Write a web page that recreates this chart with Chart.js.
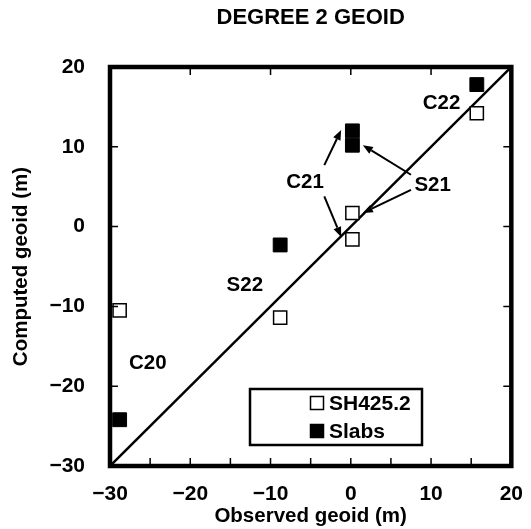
<!DOCTYPE html>
<html>
<head>
<meta charset="utf-8">
<script src="https://cdn.jsdelivr.net/npm/chart.js@4.4.0/dist/chart.umd.min.js"></script>
<style>
  body { margin: 0; background: #fff; }
  #wrap { width: 531px; height: 529px; }
</style>
</head>
<body>
<div id="wrap"><canvas id="grafica" width="531" height="529"></canvas></div>
<script>
// Términos del geoide de grado 2 (un punto por término y modelo)
const terminos = ['C22', 'C21', 'S21', 'S22', 'C20'];
const observado = [15.7, 0.2, 0.2, -8.8, -28.8];
const sh4252 = [14.2, -1.6, 1.7, -11.4, -10.5];
const slabs = [17.8, 12.0, 10.2, -2.3, -24.2];

// Recta y = x
const rectaX = [-30, 20];
const rectaY = [-30, 20];

// Marcas de los ejes
const ticksX = [-30, -20, -10, 0, 10, 20];
const ticksY = [-30, -20, -10, 0, 10, 20];
const ticksMenoresX = [-25, -15, -5, 5, 15];

// Rótulos y flechas, en unidades de los datos
const rotulos = [
    { texto: 'C22', x: 11.3, y: 15.5 },
    { texto: 'C21', x: -5.7, y: 5.5 },
    { texto: 'S21', x: 10.2, y: 5.2 },
    { texto: 'S22', x: -13.2, y: -7.3 },
    { texto: 'C20', x: -25.3, y: -17.1 }
];
const flechas = [
    { desde: [-3.3, 7.7], hasta: [-1.2, 12.1] },
    { desde: [-3.3, 3.8], hasta: [-1.2, -1.3] },
    { desde: [7.5, 6.5], hasta: [1.5, 10.2] },
    { desde: [7.5, 4.6], hasta: [1.5, 1.7] }
];

const fuente = '"Liberation Sans", Arial, Helvetica, sans-serif';
const menos = v => String(v).replace('-', '\u2212');

// Dibuja marco, marcas hacia dentro, flechas, rótulos y leyenda
const dibujoExtra = {
    id: 'dibujoExtra',
    afterDraw(chart) {
        const { ctx, chartArea: a, scales: { x, y } } = chart;
        ctx.save();
        ctx.strokeStyle = '#000';
        ctx.fillStyle = '#000';

        // marcas
        ctx.lineWidth = 1.5;
        const largo = 8;
        ctx.beginPath();
        ticksX.concat(ticksMenoresX).forEach(v => {
            const px = x.getPixelForValue(v);
            ctx.moveTo(px, a.bottom);
            ctx.lineTo(px, a.bottom - largo);
        });
        ticksX.forEach(v => {
            const px = x.getPixelForValue(v);
            ctx.moveTo(px, a.top);
            ctx.lineTo(px, a.top + largo);
        });
        ticksY.forEach(v => {
            const py = y.getPixelForValue(v);
            ctx.moveTo(a.left, py);
            ctx.lineTo(a.left + largo, py);
            ctx.moveTo(a.right, py);
            ctx.lineTo(a.right - largo, py);
        });
        ctx.stroke();

        // marco
        ctx.lineWidth = 4.5;
        ctx.strokeRect(a.left, a.top, a.right - a.left, a.bottom - a.top);

        // flechas
        ctx.lineWidth = 2;
        flechas.forEach(f => {
            const x0 = x.getPixelForValue(f.desde[0]);
            const y0 = y.getPixelForValue(f.desde[1]);
            const x1 = x.getPixelForValue(f.hasta[0]);
            const y1 = y.getPixelForValue(f.hasta[1]);
            const ang = Math.atan2(y1 - y0, x1 - x0);
            const punta = 10, ancho = 4;
            const bx = x1 - punta * Math.cos(ang);
            const by = y1 - punta * Math.sin(ang);
            ctx.beginPath();
            ctx.moveTo(x0, y0);
            ctx.lineTo(bx, by);
            ctx.stroke();
            ctx.beginPath();
            ctx.moveTo(x1, y1);
            ctx.lineTo(bx + ancho * Math.sin(ang), by - ancho * Math.cos(ang));
            ctx.lineTo(bx - ancho * Math.sin(ang), by + ancho * Math.cos(ang));
            ctx.closePath();
            ctx.fill();
        });

        // rótulos
        ctx.font = 'bold 20.5px ' + fuente;
        ctx.textAlign = 'center';
        ctx.textBaseline = 'middle';
        rotulos.forEach(r => {
            ctx.fillText(r.texto, x.getPixelForValue(r.x), y.getPixelForValue(r.y));
        });

        // leyenda
        const lx = a.left + 140, ly = a.top + 322, lw = 172, lh = 56;
        ctx.fillStyle = '#fff';
        ctx.fillRect(lx, ly, lw, lh);
        ctx.lineWidth = 2.5;
        ctx.strokeRect(lx, ly, lw, lh);
        const lado = 13;
        ctx.font = 'bold 21px ' + fuente;
        chart.data.datasets.slice(0, 2).forEach((ds, i) => {
            const cy = ly + 14 + i * 28;
            const cx = lx + 67;
            ctx.fillStyle = ds.backgroundColor;
            ctx.fillRect(cx - lado / 2, cy - lado / 2, lado, lado);
            ctx.lineWidth = 1.5;
            ctx.strokeRect(cx - lado / 2, cy - lado / 2, lado, lado);
            ctx.fillStyle = '#000';
            ctx.textAlign = 'left';
            ctx.fillText(ds.label, lx + 79, cy + 1);
        });
        ctx.restore();
    }
};

const ctx = document.getElementById('grafica').getContext('2d');
new Chart(ctx, {
    type: 'scatter',
    data: {
        datasets: [
            {
                label: 'SH425.2',
                data: observado.map((v, i) => ({ x: v, y: sh4252[i] })),
                pointStyle: 'rect',
                pointRadius: 9.3,
                backgroundColor: '#fff',
                borderColor: '#000',
                borderWidth: 1.5
            },
            {
                label: 'Slabs',
                data: observado.map((v, i) => ({ x: v, y: slabs[i] })),
                pointStyle: 'rect',
                pointRadius: 9.8,
                backgroundColor: '#000',
                borderColor: '#000',
                borderWidth: 1
            },
            {
                label: 'y = x',
                data: rectaX.map((v, i) => ({ x: v, y: rectaY[i] })),
                showLine: true,
                pointRadius: 0,
                borderColor: '#000',
                borderWidth: 2.5
            }
        ]
    },
    options: {
        responsive: false,
        animation: false,
        layout: { padding: { left: 0, right: 19, top: 0, bottom: 0 } },
        plugins: {
            legend: { display: false },
            tooltip: { enabled: false },
            title: {
                display: true,
                text: 'DEGREE 2 GEOID',
                fullSize: false,
                color: '#000',
                font: { family: fuente, size: 22, weight: 'bold' },
                padding: { top: 5, bottom: 35.6 }
            }
        },
        scales: {
            x: {
                type: 'linear',
                min: -30,
                max: 20,
                afterBuildTicks: s => { s.ticks = ticksX.map(v => ({ value: v })); },
                afterFit: s => { s.height = 63; },
                grid: { display: false },
                border: { display: false },
                ticks: {
                    color: '#000',
                    padding: 8,
                    maxRotation: 0,
                    autoSkip: false,
                    font: { family: fuente, size: 21, weight: 'bold' },
                    callback: menos
                },
                title: {
                    display: true,
                    text: 'Observed geoid (m)',
                    color: '#000',
                    font: { family: fuente, size: 20.5, weight: 'bold' },
                    padding: { top: 0, bottom: 0 }
                }
            },
            y: {
                type: 'linear',
                min: -30,
                max: 20,
                afterBuildTicks: s => { s.ticks = ticksY.map(v => ({ value: v })); },
                afterFit: s => { s.width = 110; },
                grid: { display: false },
                border: { display: false },
                ticks: {
                    color: '#000',
                    padding: 17,
                    autoSkip: false,
                    font: { family: fuente, size: 21, weight: 'bold' },
                    callback: menos
                },
                title: {
                    display: true,
                    text: 'Computed geoid (m)',
                    color: '#000',
                    font: { family: fuente, size: 20.5, weight: 'bold' },
                    padding: { top: 9, bottom: 0 }
                }
            }
        }
    },
    plugins: [dibujoExtra]
});
</script>
</body>
</html>
